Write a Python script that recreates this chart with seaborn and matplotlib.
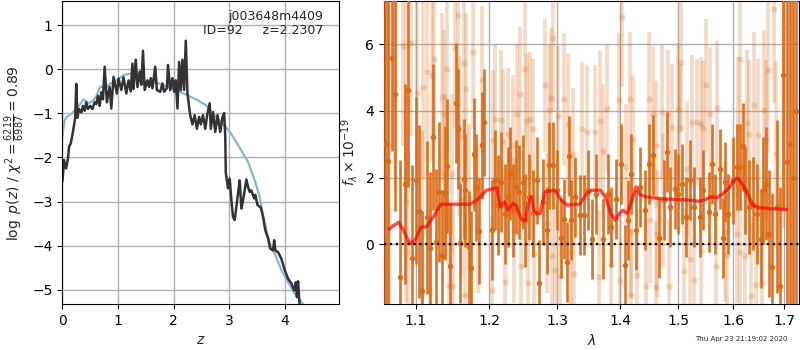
import numpy as np
import pandas as pd
import seaborn as sns
import matplotlib.pyplot as plt
from matplotlib.ticker import FixedLocator, FormatStrFormatter, NullLocator

# p(z) panel
z_grid = [0.00, 0.03, 0.067, 0.10, 0.12, 0.15, 0.18, 0.205, 0.23, 0.25, 0.27, 0.30, 0.34, 0.37, 0.40,
          0.43, 0.46, 0.50, 0.54, 0.58, 0.61, 0.64, 0.67, 0.70, 0.73, 0.76, 0.80, 0.85, 0.88, 0.92,
          0.98, 1.01, 1.06, 1.10, 1.15, 1.19, 1.23, 1.26, 1.28, 1.32, 1.35, 1.39, 1.42, 1.45, 1.48,
          1.53, 1.56, 1.59, 1.62, 1.67, 1.70, 1.76, 1.80, 1.83, 1.88, 1.90, 1.94, 1.98, 2.01, 2.04,
          2.07, 2.10, 2.13, 2.16, 2.19, 2.22, 2.25, 2.30, 2.34, 2.38, 2.42, 2.46, 2.49, 2.53, 2.57,
          2.61, 2.65, 2.67, 2.71, 2.75, 2.79, 2.84, 2.88, 2.91, 2.93, 2.94, 2.98, 3.01, 3.04, 3.07,
          3.10, 3.13, 3.16, 3.19, 3.22, 3.25, 3.31, 3.34, 3.37, 3.40, 3.45, 3.47, 3.51, 3.57, 3.61,
          3.65, 3.70, 3.74, 3.79, 3.81, 3.83, 3.88, 3.94, 4.00, 4.06, 4.12, 4.17, 4.20, 4.22, 4.24,
          4.27, 4.29]
log_pz = [-2.55, -2.06, -2.25, -2.03, -1.76, -1.68, -1.49, -1.30, -1.10, -0.33, -1.10, -0.90, -0.98, -0.83, -0.94,
          -0.75, -0.90, -0.83, -0.90, -0.75, -0.79, -0.60, -0.83, -0.52, -0.68, 0.06, -0.75, -0.40, -0.89, -0.17,
          -0.55, -0.21, -0.47, -0.18, -0.55, -0.25, -0.50, 0.13, -0.45, 0.22, -0.40, -0.05, -0.35, 0.42, -0.47,
          -0.25, -0.40, -0.20, -0.43, 0.06, -0.47, -0.51, -0.32, -0.51, -0.43, 0.10, -0.47, -0.20, -0.51, -0.25,
          -0.89, 0.17, -0.47, 0.22, -0.47, 0.65, -0.55, -1.05, -1.25, -1.04, -1.35, -1.08, -1.25, -1.04, -1.35,
          -1.00, -0.77, -1.35, -0.97, -1.42, -1.04, -1.42, -1.09, -0.99, -1.53, -2.36, -2.70, -2.48, -2.97, -3.35,
          -3.42, -3.12, -2.82, -2.52, -3.16, -2.97, -2.50, -2.67, -2.78, -2.75, -2.93, -2.85, -3.08, -3.14, -3.35,
          -3.65, -3.84, -4.07, -4.11, -3.88, -4.11, -4.15, -4.30, -4.56, -4.75, -4.86, -5.02, -4.83, -5.17, -4.81,
          -5.40, -5.70]

z_prior = [0.00, 0.04, 0.08, 0.17, 0.26, 0.38, 0.47, 0.56, 0.62, 0.68, 0.77, 0.86, 0.98, 1.10, 1.22,
           1.28, 1.37, 1.49, 1.61, 1.76, 1.94, 2.07, 2.25, 2.43, 2.58, 2.73, 2.88, 3.03, 3.18, 3.34,
           3.46, 3.55, 3.61, 3.67, 3.73, 3.82, 3.94, 4.06, 4.18, 4.33, 4.36]
log_prior = [-1.53, -1.15, -1.08, -1.00, -0.89, -0.68, -0.77, -0.70, -0.59, -0.39, -0.42, -0.33, -0.25, -0.13, -0.10,
             -0.08, -0.21, -0.28, -0.28, -0.33, -0.42, -0.48, -0.59, -0.70, -0.81, -1.04, -1.22, -1.45, -1.76, -2.10,
             -2.52, -2.90, -3.31, -3.65, -3.95, -4.18, -4.56, -4.83, -5.09, -5.33, -5.45]

# spectrum panel: dark grism points
dark_wave = [1.061, 1.065, 1.069, 1.073, 1.080, 1.086, 1.090, 1.095, 1.100, 1.104, 1.108, 1.115, 1.118, 1.122, 1.127, 1.130,
             1.134, 1.138, 1.141, 1.145, 1.153, 1.156, 1.159, 1.164, 1.166, 1.171, 1.174, 1.179, 1.181, 1.185, 1.189, 1.192,
             1.203, 1.208, 1.212, 1.217, 1.222, 1.226, 1.230, 1.234, 1.238, 1.243, 1.248, 1.252, 1.258, 1.263, 1.269, 1.273,
             1.279, 1.284, 1.288, 1.294, 1.299, 1.306, 1.311, 1.315, 1.318, 1.322, 1.327, 1.335, 1.342, 1.348, 1.354, 1.361,
             1.373, 1.381, 1.386, 1.394, 1.402, 1.408, 1.413, 1.418, 1.427, 1.433, 1.442, 1.449, 1.456, 1.466, 1.474, 1.480,
             1.486, 1.494, 1.500, 1.506, 1.513, 1.520, 1.527, 1.538,
             1.545, 1.556, 1.560, 1.566, 1.575, 1.582, 1.585, 1.591, 1.599, 1.607, 1.613, 1.618, 1.623, 1.630, 1.638, 1.645,
             1.654, 1.658, 1.664, 1.670, 1.676, 1.685, 1.692, 1.697, 1.706, 1.712, 1.718, 1.724]
dark_flux = [3.0, 2.5, 5.6, 4.5, -0.98, 1.8, 4.62, -0.42, 1.92, 0.99, -1.41, 0.81, -0.12, 3.22, 0.07, 1.56,
             -0.36, 1.54, 2.35, -0.65, 4.23, 3.45, 0.04, 1.95, 1.62, -0.09, -0.71, 2.70, 1.71, 0.40, 2.97, 3.66,
             0.42, 1.92, 1.17, 1.87, 0.92, 1.42, 2.13, 1.02, 1.72, 1.57, 1.87, 0.72, 1.42, 0.93, 1.92, -1.16,
             1.27, 0.42, 2.37, 2.37, 1.62, 0.20, 0.77, -0.53, 2.64, 0.72, 1.42, 0.87, 0.87, 1.62, 0.17, 1.52,
             0.17, 1.52, 0.52, 1.37, 2.42, -0.63, 0.72, 2.12, 0.42, 1.72, 1.02, 2.42, 2.67, 0.20, 1.32, 2.77,
             1.12, 1.67, 1.52, 1.82, 0.82, 1.92, 1.12, 0.82,
             1.62, 0.97, 2.42, 0.92, 2.27, 0.20, 1.87, 0.92, 1.92, 2.32, 2.32, 2.94, 1.62, 1.12, 1.22, 0.92,
             0.17, 1.62, 1.82, 0.32, -0.67, 1.12, -1.27, 5.07, 2.47, 3.0, 2.0, 4.0]
dark_err = [9, 9, 2.8, 3.5, 3.5, 3.0, 2.9, 2.8, 2.5, 2.6, 2.4, 2.3, 2.3, 2.2, 2.2, 2.1,
            2.0, 2.0, 2.0, 1.9, 1.8, 1.8, 1.8, 1.8, 1.7, 1.7, 1.7, 1.7, 1.6, 1.6, 1.6, 1.6,
            1.5, 1.5, 1.5, 1.5, 1.5, 1.5, 1.4, 1.4, 1.4, 1.4, 1.4, 1.4, 1.3, 1.3, 1.3, 1.3,
            1.3, 1.3, 1.3, 1.3, 1.2, 1.2, 1.2, 1.2, 1.2, 1.2, 1.2, 1.2, 1.2, 1.2, 1.2, 1.2,
            1.2, 1.2, 1.2, 1.2, 1.2, 1.2, 1.2, 1.2, 1.2, 1.2, 1.2, 1.2, 1.2, 1.2, 1.2, 1.2,
            1.2, 1.2, 1.2, 1.2, 1.2, 1.2, 1.2, 1.2,
            1.2, 1.2, 1.2, 1.2, 1.2, 1.2, 1.2, 1.2, 1.3, 1.3, 1.3, 1.3, 1.3, 1.4, 1.4, 1.5,
            1.5, 1.6, 1.7, 1.9, 2.2, 2.6, 3.0, 4.0, 6, 8, 9, 9]

# spectrum panel: faint grism points
light_wave = [1.062, 1.066, 1.073, 1.083, 1.087, 1.088, 1.090, 1.094, 1.102, 1.108, 1.110, 1.115, 1.118, 1.121, 1.124,
              1.134, 1.137, 1.138, 1.141, 1.144, 1.148, 1.150, 1.152, 1.156, 1.157, 1.161, 1.164, 1.166, 1.167, 1.172,
              1.177, 1.184, 1.190,
              1.203, 1.205, 1.208, 1.217, 1.219, 1.222, 1.227, 1.234, 1.236, 1.240, 1.244, 1.245, 1.252, 1.255, 1.256,
              1.259, 1.264, 1.265, 1.282, 1.285, 1.287, 1.290, 1.292, 1.294, 1.297, 1.301, 1.304, 1.311, 1.317, 1.321,
              1.324, 1.326, 1.338, 1.347,
              1.360, 1.366, 1.368, 1.373, 1.379, 1.386, 1.399, 1.400, 1.403, 1.410, 1.417, 1.418, 1.419, 1.422, 1.428,
              1.444, 1.448, 1.450, 1.456, 1.460, 1.461, 1.463, 1.472, 1.473, 1.482, 1.484, 1.489, 1.499, 1.502, 1.504,
              1.510, 1.516, 1.521, 1.525, 1.527, 1.533,
              1.540, 1.541, 1.545, 1.550, 1.557, 1.568, 1.570, 1.584, 1.588, 1.608, 1.609, 1.613, 1.614, 1.623, 1.627,
              1.631, 1.634, 1.640, 1.643, 1.647, 1.655, 1.659, 1.664, 1.668, 1.680, 1.684, 1.700, 1.715]
light_flux = [2.0, 3.0, 4.89, 5.95, 1.26, 4.34, -0.23, 6.05, 4.53, 0.70, 4.71, 5.16, -1.48, 5.07, 5.55,
              4.43, 3.92, 2.10, 5.25, -1.26, 2.10, -1.26, 5.89, 6.87, 3.24, 1.32, 5.44, -1.53, 4.65, 1.42,
              5.76, 0.72, 4.94,
              -1.38, 3.12, 3.77, 3.74, 3.07, -1.13, 3.30, 2.97, 0.42, 3.90, 4.52, -0.66, 5.25, 3.70, -1.18,
              3.77, 3.45, -0.30, 4.77, 0.64, 4.02, 4.38, -0.36, 6.18, -0.76, 3.84, -0.96, 4.35, 3.60, -0.23,
              2.70, -0.88, 3.47, 3.37,
              3.37, -0.98, 3.69, 2.80, 4.07, -0.58, 4.34, -1.11, 6.81, 2.32, 4.37, 0.37, -1.53, 3.17, -0.93,
              -1.25, 4.37, 0.72, 3.92, 2.99, -1.30, 0.32, 3.97, 1.32, 3.92, -1.25, 3.52, 4.05, 3.50, 5.46,
              -0.80, 2.27, -0.43, 3.67, -1.08, 3.67,
              3.62, -0.16, 3.50, 4.77, 3.92, -0.66, 4.10, 0.37, -0.33, 0.32, 3.52, 5.57, -0.23, -0.36, 3.64,
              3.32, -1.56, 4.17, -1.23, 3.27, -1.13, 4.04, 3.14, 5.24, 7.05, 2.70, 6.5, 2.0]
light_err = [8, 8, 3.2, 3.0, 3.0, 2.9, 2.9, 2.8, 2.8, 2.7, 2.7, 2.6, 2.6, 2.6, 2.5,
             2.5, 2.5, 2.4, 2.5, 2.4, 2.4, 2.4, 2.4, 2.3, 2.4, 2.3, 2.3, 2.3, 2.3, 2.2,
             2.3, 2.2, 2.2,
             2.2, 2.1, 2.2, 2.1, 2.2, 2.1, 2.0, 2.1, 2.2, 2.1, 2.0, 2.2, 2.1, 2.0, 2.1,
             2.0, 2.1, 2.0, 2.0, 2.1, 2.0, 2.1, 2.0, 2.2, 2.0, 2.1, 2.0, 2.0, 2.1, 2.0,
             2.0, 2.1, 2.0, 2.0,
             2.0, 2.0, 2.1, 2.0, 1.9, 2.0, 2.0, 2.0, 2.1, 1.9, 2.0, 2.0, 2.0, 1.9, 2.0,
             2.0, 2.0, 1.9, 2.0, 1.9, 2.0, 1.9, 2.0, 2.0, 1.9, 2.0, 1.9, 2.0, 1.9, 2.1,
             1.9, 2.0, 1.9, 2.0, 2.0, 1.9,
             2.0, 1.9, 2.0, 2.0, 2.0, 2.0, 2.0, 2.1, 2.0, 2.1, 2.1, 2.1, 2.1, 2.1, 2.2,
             2.2, 2.2, 2.2, 2.3, 2.3, 2.3, 2.4, 2.4, 2.5, 2.8, 2.8, 6, 9]

# best-fit model
model_wave = [1.066, 1.071, 1.078, 1.084, 1.092, 1.099, 1.107, 1.114, 1.123, 1.133, 1.145, 1.173, 1.182, 1.196, 1.208,
              1.211, 1.215, 1.222, 1.226, 1.234, 1.238, 1.247, 1.252, 1.256, 1.261, 1.265, 1.269, 1.274, 1.281, 1.294,
              1.299, 1.306, 1.316, 1.324, 1.335, 1.346, 1.354, 1.368, 1.376, 1.385, 1.392, 1.399, 1.405, 1.412, 1.418,
              1.427, 1.433, 1.445, 1.467, 1.498, 1.520, 1.538, 1.548, 1.559, 1.570, 1.581, 1.594, 1.604, 1.610, 1.619,
              1.629, 1.638, 1.648, 1.670, 1.705]
model_flux = [0.45, 0.55, 0.66, 0.42, 0.02, 0.12, 0.52, 0.52, 0.82, 1.20, 1.20, 1.20, 1.32, 1.62, 1.68,
              1.69, 1.12, 1.27, 1.02, 1.22, 1.17, 0.72, 0.72, 1.22, 1.42, 1.02, 0.92, 0.92, 1.57, 1.62,
              1.57, 1.32, 1.17, 1.20, 1.20, 1.52, 1.62, 1.62, 1.42, 0.92, 0.72, 0.92, 1.02, 0.92, 1.22,
              1.72, 1.50, 1.42, 1.37, 1.34, 1.32, 1.29, 1.34, 1.42, 1.40, 1.52, 1.72, 1.97, 1.97, 1.77,
              1.47, 1.17, 1.10, 1.07, 1.04]

pz = pd.DataFrame({'z': z_grid, 'logp': log_pz})
prior = pd.DataFrame({'z': z_prior, 'logp': log_prior})
model = pd.DataFrame({'wave': model_wave, 'flux': model_flux})

sns.set_style("ticks", {"axes.grid": True, "grid.color": "#b0b0b0", "axes.edgecolor": "black",
                        "xtick.color": "black", "ytick.color": "black"})
plt.rcParams['font.family'] = ['DejaVu Sans']
plt.rcParams['font.size'] = 10
plt.rcParams['mathtext.fontset'] = 'dejavusans'

fig = plt.figure(figsize=(8, 3.5), dpi=100)
ax1 = fig.add_axes([0.078, 0.131, 0.346, 0.866])
ax2 = fig.add_axes([0.480, 0.131, 0.519, 0.866])

# left: redshift probability
sns.lineplot(data=prior, x='z', y='logp', ax=ax1, color='#86b6d9', lw=1.6, sort=False, estimator=None)
sns.lineplot(data=pz, x='z', y='logp', ax=ax1, color='#333333', lw=1.8, sort=False, estimator=None)
ax1.set_xlim(0, 4.98)
ax1.set_ylim(-5.33, 1.55)
ax1.set_xticks([0, 1, 2, 3, 4])
ax1.set_yticks([-5, -4, -3, -2, -1, 0, 1])
ax1.set_xlabel('$z$')
ax1.set_ylabel(r'$\log\ p(z)$ / $\chi^2=\frac{6219}{6987}=0.89$')
ax1.text(0.943, 0.972, 'j003648m4409\nID=92     z=2.2307', transform=ax1.transAxes,
         ha='right', va='top', fontsize=9, linespacing=1.15)
ax1.grid(True, color='#b0b0b0', lw=1)

# right: spectrum
orange = '#dc6b17'
ax2.errorbar(light_wave, light_flux, yerr=light_err, fmt='o', color=orange, alpha=0.25,
             ms=4.5, lw=2.6, capsize=0, mew=0, zorder=2)
ax2.errorbar(dark_wave, dark_flux, yerr=dark_err, fmt='o', color=orange, alpha=0.95,
             ms=4, lw=1.9, capsize=0, mew=0, zorder=3)
sns.lineplot(data=model, x='wave', y='flux', ax=ax2, color='red', lw=2.4, alpha=0.7,
             sort=False, estimator=None, zorder=4)
ax2.axhline(0, color='black', ls=':', lw=1.6, zorder=5)

ax2.set_xscale('log')
ax2.set_xlim(1.0595, 1.730)
ax2.set_ylim(-1.8, 7.3)
ax2.xaxis.set_major_locator(FixedLocator([1.1, 1.2, 1.3, 1.4, 1.5, 1.6, 1.7]))
ax2.xaxis.set_major_formatter(FormatStrFormatter('%.1f'))
ax2.xaxis.set_minor_locator(NullLocator())
ax2.set_yticks([0, 2, 4, 6])
ax2.set_xlabel(r'$\lambda$')
ax2.set_ylabel(r'$f_\lambda\times10^{-19}$')
ax2.grid(True, color='#b0b0b0', lw=1)

fig.text(0.984, 0.031, 'Thu Apr 23 21:19:02 2020', ha='right', va='center', fontsize=5)

fig.savefig('out.png', dpi=100)
